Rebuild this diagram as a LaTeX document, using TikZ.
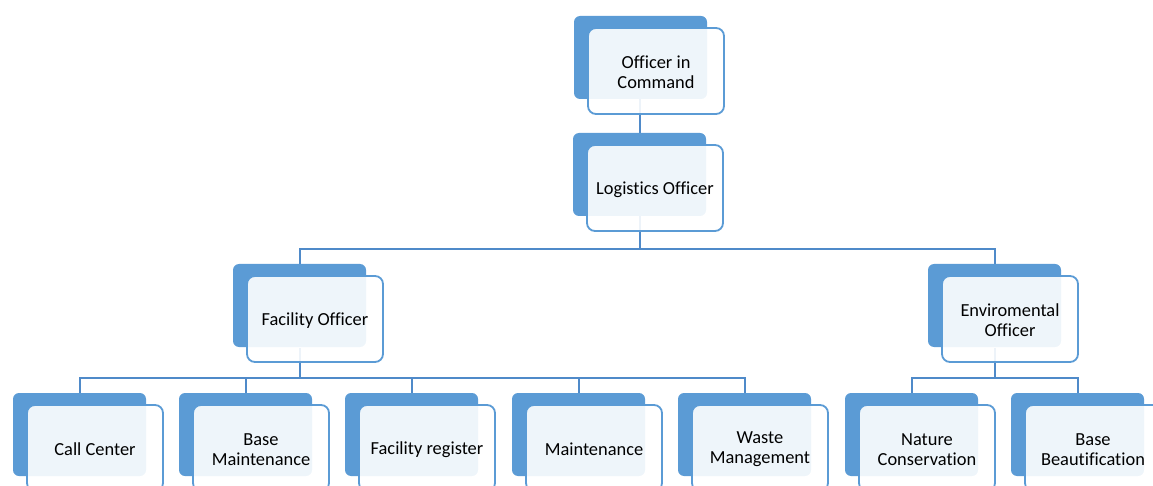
\documentclass[tikz,border=0pt]{standalone}
\usepackage{fontspec}
\setmainfont{Carlito}[Ligatures=NoCommon]
\definecolor{accent}{HTML}{5B9BD5}
\definecolor{linkc}{HTML}{4F8AC9}
\tikzset{
  backbox/.style={fill=accent, draw=none, rounded corners=6pt, minimum width=133pt,
    minimum height=83pt, inner sep=0pt, outer sep=0pt, anchor=north west},
  frontbox/.style={fill=white, fill opacity=0.9, text opacity=1, draw=accent, line width=1.8pt,
    rounded corners=8pt, minimum width=136pt, minimum height=86pt, inner sep=0pt, outer sep=0pt,
    anchor=north west},
  cardlabel/.style={align=center, inner sep=0pt, font=\fontsize{18.4}{20}\selectfont},
  link/.style={draw=linkc, line width=2pt}
}
% one org unit: dark back tab plus the lighter labelled card on top
\newcommand{\orgunit}[4]{%
  \node[backbox] (#1b) at (#2pt,-#3pt) {};
  \node[frontbox] (#1) at ([xshift=14pt,yshift=-12pt]#1b.north west) {};
  \node[cardlabel] (#1t) at ([yshift=-1.5pt]#1.center) {#4};
}
\begin{document}
\begin{tikzpicture}
\useasboundingbox (0,0) rectangle (1153pt,-486pt);
\clip (0,0) rectangle (1153pt,-486pt);
% connectors are drawn first so the cards lie over them
\begin{scope}[link]
  \draw (640pt,-99pt) coordinate (ot) -- (640pt,-133pt) coordinate (lt);
  \coordinate (ls) at (640pt,-215pt);
  \draw (ls) |- (300pt,-249pt) coordinate (bar1l) -- (300pt,-264pt) coordinate (ft);
  \draw (ls) |- (995pt,-249pt) coordinate (bar1r) -- (995pt,-264pt) coordinate (et);
  \coordinate (fs) at (300pt,-348pt);
  \coordinate (es) at (995pt,-348pt);
  \foreach \x in {79.5,245.5,411.5,578.5,744.5}{
    \draw (fs) |- (\x pt,-378pt) -- (\x pt,-393pt);
  }
  \foreach \x in {911.5,1077.5}{
    \draw (es) |- (\x pt,-378pt) -- (\x pt,-393pt);
  }
\end{scope}
\orgunit{cmd}{574}{16}{Officer in\\Command}
\orgunit{log}{573}{133}{Logistics Officer}
\orgunit{fac}{233}{264}{Facility Officer}
\orgunit{env}{928}{264}{Enviromental\\Officer}
\orgunit{call}{13}{393}{Call Center}
\orgunit{bmt}{179}{393}{Base\\Maintenance}
\orgunit{freg}{345}{393}{Facility register}
\orgunit{mnt}{512}{393}{Maintenance}
\orgunit{waste}{678}{393}{Waste\\Management}
\orgunit{nat}{845}{393}{Nature\\Conservation}
\orgunit{beau}{1011}{393}{Base\\Beautification}
\end{tikzpicture}
\end{document}
